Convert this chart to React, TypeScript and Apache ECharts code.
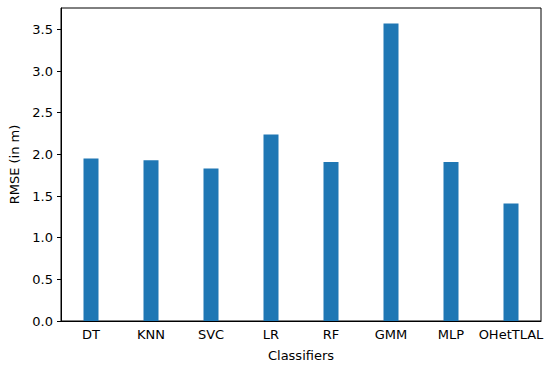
import React, { useEffect, useRef } from "react";
import * as echarts from "echarts";

const categories = ["DT", "KNN", "SVC", "LR", "RF", "GMM", "MLP", "OHetTLAL"];
const rmseValues = [1.95, 1.93, 1.83, 2.24, 1.91, 3.57, 1.91, 1.41];
const yTicks = [0, 0.5, 1.0, 1.5, 2.0, 2.5, 3.0, 3.5];

export default function App() {
  const ref = useRef<HTMLDivElement>(null);
  useEffect(() => {
    document.body.style.margin = "0";
    const chart = echarts.init(ref.current!, null, { renderer: "svg" });
    const font = "DejaVu Sans";
    chart.setOption({
      animation: false,
      grid: {
        left: 60,
        top: 8,
        right: 9,
        bottom: 51,
        show: true,
        borderColor: "#000",
        borderWidth: 1,
        backgroundColor: "transparent",
      },
      xAxis: {
        type: "category",
        data: categories,
        name: "Classifiers",
        nameLocation: "middle",
        nameGap: 28,
        nameTextStyle: { fontFamily: font, fontSize: 13, color: "#000" },
        axisLine: { lineStyle: { color: "#000", width: 1 } },
        axisTick: { alignWithLabel: true, length: 4, lineStyle: { color: "#000" } },
        axisLabel: { interval: 0, fontFamily: font, fontSize: 13, color: "#000", margin: 7 },
      },
      yAxis: {
        type: "value",
        min: 0,
        max: 3.757,
        interval: 0.5,
        name: "RMSE (in m)",
        nameLocation: "middle",
        nameRotate: 90,
        nameGap: 40,
        nameTextStyle: { fontFamily: font, fontSize: 13, color: "#000" },
        splitLine: { show: false },
        axisLine: { show: true, lineStyle: { color: "#000", width: 1 } },
        axisTick: { show: true, length: 4, lineStyle: { color: "#000" } },
        axisLabel: {
          fontFamily: font,
          fontSize: 13,
          color: "#000",
          margin: 8,
          showMaxLabel: false,
          formatter: (v: number) =>
            yTicks.some((t) => Math.abs(t - v) < 1e-6) ? v.toFixed(1) : "",
        },
      },
      series: [
        {
          type: "bar",
          data: rmseValues,
          barWidth: "25%",
          itemStyle: { color: "#1f77b4" },
        },
      ],
    });
    return () => chart.dispose();
  }, []);
  return <div ref={ref} style={{ width: 550, height: 372 }} />;
}
